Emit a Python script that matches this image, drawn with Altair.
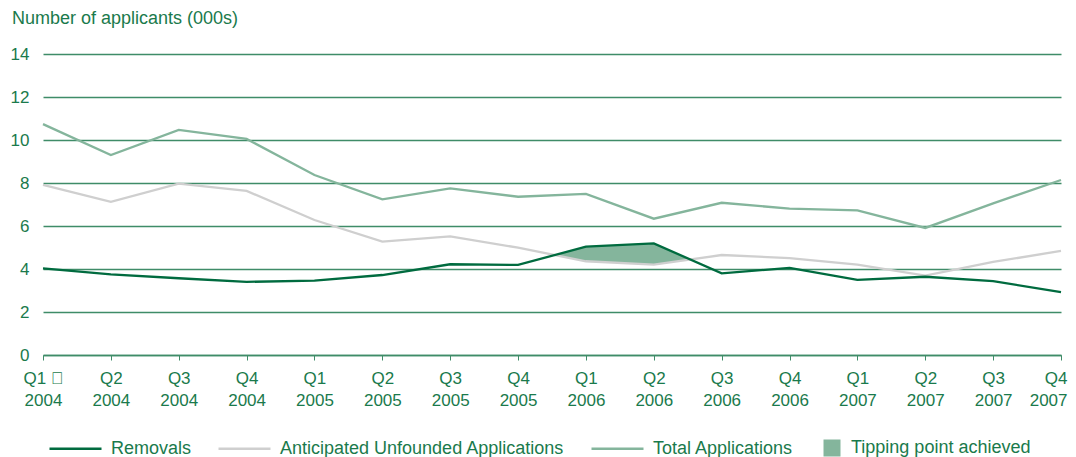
import json
import altair as alt
import pandas as pd

quarters = ["Q1 \ue000", "Q2", "Q3", "Q4", "Q1", "Q2", "Q3", "Q4",
            "Q1", "Q2", "Q3", "Q4", "Q1", "Q2", "Q3", "Q4"]
years = ["2004"] * 4 + ["2005"] * 4 + ["2006"] * 4 + ["2007"] * 4

removals = [4.03, 3.75, 3.57, 3.40, 3.46, 3.72, 4.22, 4.19,
            5.04, 5.19, 3.80, 4.05, 3.49, 3.64, 3.44, 2.92]
unfounded = [7.91, 7.12, 7.97, 7.63, 6.28, 5.27, 5.52, 4.99,
             4.36, 4.20, 4.65, 4.51, 4.20, 3.69, 4.33, 4.84]
total = [10.74, 9.30, 10.47, 10.05, 8.37, 7.24, 7.75, 7.36,
         7.49, 6.34, 7.08, 6.81, 6.73, 5.91, 7.05, 8.14]

series_names = ["Removals", "Anticipated Unfounded Applications", "Total Applications"]
series_colors = ["#006b3f", "#cfcfcf", "#84b59c"]
area_name = "Tipping point achieved"
area_color = "#84b59c"
text_color = "#1a7a4c"
grid_color = "#3f8c68"
FONT = "Liberation Sans"

# long table for lines (drawn back to front: removals last so it sits on top)
rows = []
for name, vals in [(series_names[2], total), (series_names[1], unfounded), (series_names[0], removals)]:
    for i, v in enumerate(vals):
        rows.append({"idx": i, "series": name, "value": v})
lines_df = pd.DataFrame(rows)

# tipping area: where removals exceed anticipated unfounded applications
diff = [r - u for r, u in zip(removals, unfounded)]
area_rows = []
for i in range(len(diff)):
    if diff[i] > 0:
        if i > 0 and diff[i - 1] <= 0:
            t = diff[i - 1] / (diff[i - 1] - diff[i])
            yc = removals[i - 1] + t * (removals[i] - removals[i - 1])
            area_rows.append({"idx": i - 1 + t, "top": yc, "bottom": yc, "label": area_name})
        area_rows.append({"idx": i, "top": removals[i], "bottom": unfounded[i], "label": area_name})
        if i + 1 < len(diff) and diff[i + 1] <= 0:
            t = diff[i] / (diff[i] - diff[i + 1])
            yc = removals[i] + t * (removals[i + 1] - removals[i])
            area_rows.append({"idx": i + t, "top": yc, "bottom": yc, "label": area_name})
area_df = pd.DataFrame(area_rows)

label_arr = json.dumps([[q, y] for q, y in zip(quarters, years)])
last = len(quarters) - 1

x_scale = alt.Scale(domain=[0, last], nice=False, zero=False)
y_scale = alt.Scale(domain=[0, 14], nice=False)

x_axis = alt.Axis(
    values=list(range(len(quarters))),
    labelExpr=f"{label_arr}[datum.value]",
    title=None, grid=False, domain=True, domainColor=grid_color, domainWidth=1.5,
    ticks=True, tickColor=grid_color, tickSize=5, tickWidth=1,
    labelColor=text_color, labelFont=FONT, labelFontSize=17,
    labelPadding=10, labelLineHeight=22, labelBaseline="top", labelFlush=False,
    labelAlign={"condition": {"test": f"datum.value == {last}", "value": "right"}, "value": "center"},
    labelOffset={"condition": {"test": f"datum.value == {last}", "value": 6}, "value": 0},
)
y_axis = alt.Axis(
    values=list(range(0, 15, 2)), title=None, domain=False, ticks=False,
    grid=True, gridColor=grid_color, gridWidth=1.3,
    labelColor=text_color, labelFont=FONT, labelFontSize=17, labelPadding=14,
)

area = alt.Chart(area_df).mark_area(opacity=1, interpolate="linear").encode(
    x=alt.X("idx:Q", scale=x_scale, axis=x_axis),
    y=alt.Y("top:Q", scale=y_scale, axis=y_axis),
    y2="bottom:Q",
    fill=alt.Fill("label:N", scale=alt.Scale(domain=[area_name], range=[area_color]),
                  legend=alt.Legend(
                      title=None, orient="none", legendX=780, legendY=385,
                      direction="horizontal", symbolType="square", symbolSize=289,
                      symbolOpacity=1, symbolStrokeWidth=0, labelOffset=10,
                      labelFont=FONT, labelFontSize=18, labelColor=text_color,
                      labelLimit=400, padding=0)),
)

lines = alt.Chart(lines_df).mark_line(strokeWidth=2.3).encode(
    x=alt.X("idx:Q", scale=x_scale),
    y=alt.Y("value:Q", scale=y_scale),
    stroke=alt.Stroke("series:N",
                      scale=alt.Scale(domain=series_names, range=series_colors),
                      legend=alt.Legend(
                          title=None, orient="none", legendX=5, legendY=367,
                          direction="horizontal", symbolType="stroke", symbolSize=2704,
                          symbolStrokeWidth=2.5, labelOffset=8, columnPadding=21,
                          labelFont=FONT, labelFontSize=18, labelColor=text_color,
                          labelLimit=400, padding=0)),
)

chart = alt.layer(area, lines).properties(
    width=1018, height=301,
    padding={"left": 35, "top": 46, "right": 7, "bottom": 102},
    autosize=alt.AutoSizeParams(type="none"),
    title=alt.TitleParams(
        "Number of applicants (000s)", anchor="start", frame="group", dx=-31,
        offset=17, font=FONT, fontSize=18, fontWeight="normal", color=text_color),
).configure_view(stroke=None)

chart.save("out.html", embed_options={"renderer": "svg", "actions": False})
